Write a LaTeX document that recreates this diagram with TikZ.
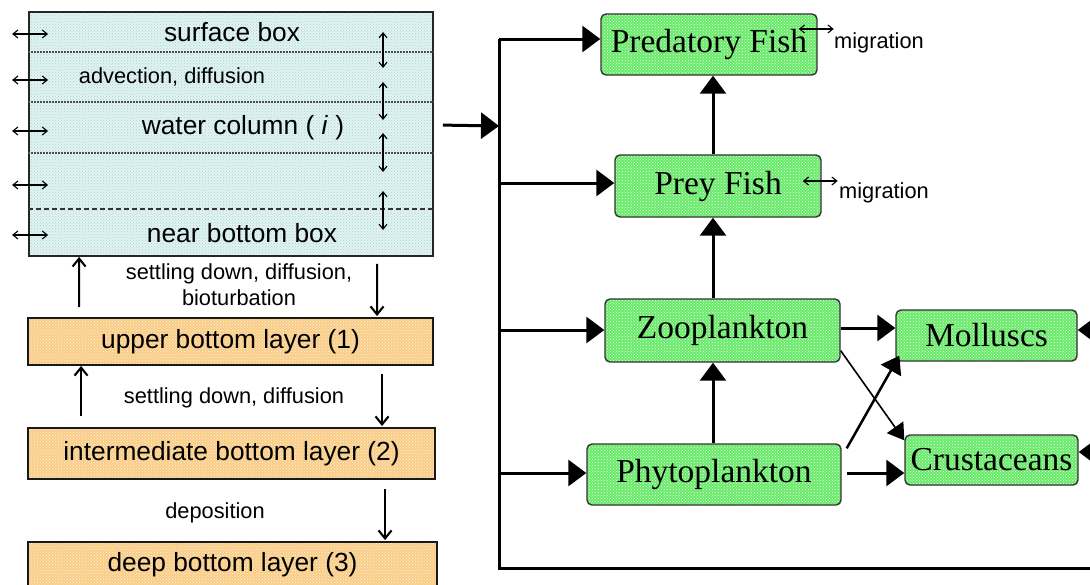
\documentclass[tikz,border=0pt]{standalone}
\usepackage{fontspec}
\setmainfont{Liberation Sans}
\newfontfamily\boxserif{Liberation Serif}
\usetikzlibrary{arrows.meta,patterns,calc}

\definecolor{waterbg}{HTML}{E2F3F3}
\definecolor{waterdot}{HTML}{A8D3D3}
\definecolor{sedbg}{HTML}{F9CD88}
\definecolor{seddot}{HTML}{FFF2DC}
\definecolor{biobg}{HTML}{6AEA6A}
\definecolor{biodot}{HTML}{E6FFE6}

\tikzset{
  big/.style={font=\fontsize{26.3}{29}\selectfont},
  small/.style={font=\fontsize{21.8}{26}\selectfont},
  water/.style={draw=black!85, line width=1.8pt, preaction={fill=waterbg},
    pattern=crosshatch dots, pattern color=waterdot, inner sep=0pt},
  sediment/.style={draw=black!90, line width=1.9pt, preaction={fill=sedbg},
    pattern=crosshatch dots, pattern color=seddot, inner sep=0pt, big},
  biota/.style={draw=black!80, line width=1.4pt, rounded corners=5pt,
    preaction={fill=biobg}, pattern=crosshatch dots, pattern color=biodot,
    inner sep=0pt, font=\boxserif\fontsize{33.5}{36}\selectfont},
  layerline/.style={draw=black!70, line width=1.2pt, dash pattern=on 1.5pt off 1.5pt},
  layerdash/.style={draw=black!80, line width=1.3pt, dash pattern=on 5pt off 3pt},
  flux/.style={line width=2.1pt, -{Straight Barb[length=8pt,width=13pt]}},
  swap/.style={line width=1.1pt,
    {Straight Barb[length=5pt,width=8pt]}-{Straight Barb[length=5pt,width=8pt]}},
  feed/.style={line width=3pt, -{Triangle[length=18pt,width=26pt]}},
  bus/.style={line width=3pt},
}

\begin{document}
\begin{tikzpicture}[x=1pt,y=-1pt]
\useasboundingbox (0,0) rectangle (1090,584);
\clip (0,0) rectangle (1090,584);

% ---------------- water column ----------------
\node[water, minimum width=404pt, minimum height=244pt] (water) at (231,134) {};
\draw[layerline] (water.west |- 0,52) -- (water.east |- 0,52);
\draw[layerline] (water.west |- 0,102) -- (water.east |- 0,102);
\draw[layerline] (water.west |- 0,153) -- (water.east |- 0,153);
\draw[layerdash] (water.west |- 0,209) -- (water.east |- 0,209);

\node[big] (surf) at (232,32) {surface box};
\node[small] (adv) at (172,77) {advection, diffusion};
\node[big] (wcol) at (243,128) {water column ( \textit{i} )};
\node[big] (nbb) at (242,233) {near bottom box};

% lateral exchange
\foreach \y in {34,80,131,185,235}
  \draw[swap] ($(water.west |- 0,\y)+(-16,0)$) -- ($(water.west |- 0,\y)+(20,0)$);
% vertical exchange between boxes
\coordinate (vx) at (383,0);
\foreach \a/\b in {32/68,82/120,133/172,191/230}
  \draw[swap] (vx |- 0,\a) -- (vx |- 0,\b);

% ---------------- sediment layers ----------------
\node[sediment, minimum width=405pt, minimum height=47pt] (upper) at (230.5,341.5) {upper bottom layer (1)};
\node[sediment, minimum width=407pt, minimum height=51pt] (inter) at (231.5,453.5) {intermediate bottom layer (2)};
\node[sediment, minimum width=409pt, minimum height=46pt] (deep) at (232.5,565) {deep bottom layer (3)};

\node[small, align=center] (sett1) at (239,285) {settling down, diffusion,\\bioturbation};
\node[small] (sett2) at (234,398) {settling down, diffusion};
\node[small] (depo) at (215,513) {deposition};

\draw[flux] ($(upper.north west)+(52,-10)$) -- ($(water.south west)+(51,0)$);
\draw[flux] ($(water.south west)+(349,7)$) -- ($(upper.north west)+(350,-1)$);
\draw[flux] ($(inter.north west)+(54,-11)$) -- ($(upper.south west)+(54,0)$);
\draw[flux] ($(upper.south west)+(355,8)$) -- ($(inter.north west)+(355,-1)$);
\draw[flux] ($(inter.south west)+(358,9)$) -- ($(deep.north west)+(358,-1)$);

% ---------------- food web ----------------
\node[biota, minimum width=216pt, minimum height=61pt] (pred) at (709,44.5) {Predatory Fish};
\node[biota, minimum width=206pt, minimum height=62pt] (prey) at (718,186) {Prey Fish};
\node[biota, minimum width=235pt, minimum height=63pt] (zoo) at (722.5,330.5) {Zooplankton};
\node[biota, minimum width=254pt, minimum height=61pt] (phyto) at (714,474.5) {Phytoplankton};
\node[biota, minimum width=181pt, minimum height=51pt] (moll) at (986.5,335.5) {Molluscs};
\node[biota, minimum width=173pt, minimum height=50pt] (crust) at (991.5,460) {Crustaceans};

\node[small] (mig1) at (879,43) {migration};
\node[small] (mig2) at (884,193) {migration};
\draw[swap] ($(pred.east)+(-19,-15.5)$) -- ($(pred.east)+(16,-15.5)$);
\draw[swap] ($(prey.east)+(-19,-5)$) -- ($(prey.east)+(16,-5)$);

% supply bus from the water column
\coordinate (hub) at (499,126);
\coordinate (b1) at (499,39);
\coordinate (b2) at (499,183);
\coordinate (b3) at (499,330);
\coordinate (b4) at (499,473);
\coordinate (bend) at (499,568);
\coordinate (far) at (1112,568);
\coordinate (rm) at (1112,330);
\coordinate (rc) at (1112,452);

\draw[feed] ($(water.north east)+(9,114)$) -- (hub);
\draw[bus] (b1) -- (bend) -- (far) -- (rm);
\draw[feed] (b1) -- (b1 -| pred.west);
\draw[feed] (b2) -- (b2 -| prey.west);
\draw[feed] (b3) -- (b3 -| zoo.west);
\draw[feed] (b4) -- (b4 -| phyto.west);
\draw[feed] (rm) -- (rm -| moll.east);
\draw[feed] (rc) -- (rc -| crust.east);

% trophic links
\coordinate (col) at (713,0);
\draw[feed] (prey.north -| col) -- (pred.south -| col);
\draw[feed] (zoo.north -| col) -- (prey.south -| col);
\draw[feed] (phyto.north -| col) -- (zoo.south -| col);
\draw[feed] (zoo.east |- 0,328) -- (moll.west |- 0,328);
\draw[feed, shorten <=5pt] (phyto.east |- 0,473) -- (crust.west |- 0,473);
\draw[line width=1.6pt, -{Triangle[length=16pt,width=20pt]}]
  ($(zoo.south east)+(0,-12)$) -- ($(crust.north west)+(0,6)$);
\draw[line width=2.5pt, -{Triangle[length=17pt,width=23pt]}]
  ($(phyto.north east)+(5,5)$) -- ($(moll.south west)+(4,-6)$);
\end{tikzpicture}
\end{document}
